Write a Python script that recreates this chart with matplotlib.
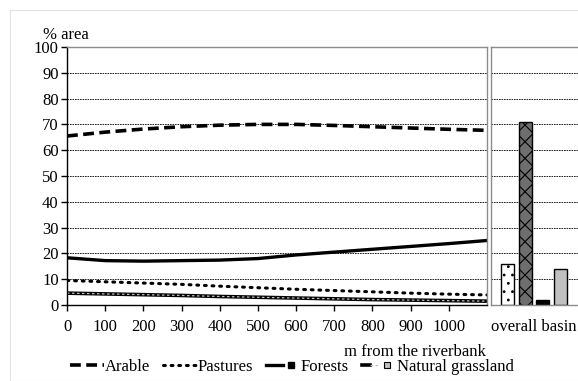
import matplotlib
matplotlib.use("Agg")
from matplotlib import pyplot as plt
from matplotlib.lines import Line2D
from matplotlib.patches import Rectangle
from matplotlib.legend_handler import HandlerTuple

plt.rcParams['font.family'] = ['Liberation Serif', 'DejaVu Serif']
plt.rcParams['font.size'] = 12
plt.rcParams['hatch.linewidth'] = 0.8

# distance from the riverbank [m]
dist = [0, 100, 200, 300, 400, 500, 600, 700, 800, 900, 1000, 1100]

# % area per land use
arable = [65.5, 67.0, 68.2, 69.1, 69.7, 70.0, 70.0, 69.6, 69.1, 68.6, 68.1, 67.7]
pastures = [9.5, 9.0, 8.5, 8.0, 7.3, 6.7, 6.1, 5.6, 5.1, 4.6, 4.2, 3.9]
forests = [18.3, 17.2, 17.0, 17.2, 17.4, 18.0, 19.4, 20.5, 21.6, 22.7, 23.8, 25.0]
grassland = [4.6, 4.3, 4.0, 3.7, 3.3, 3.0, 2.7, 2.4, 2.1, 1.9, 1.7, 1.5]

# overall basin: pastures, arable, forests, natural grassland
basin_vals = [16, 71, 2, 14]
basin_label = 'overall basin'

x_ticks = list(range(0, 1001, 100))
y_ticks = list(range(0, 101, 10))

fig = plt.figure(figsize=(5.78, 3.81), dpi=100)

# faint outer frame
fig.patches.append(Rectangle((10 / 578, 0), 1.0, 1 - 10 / 381, transform=fig.transFigure,
                             fill=False, edgecolor='#e4e4e4', lw=0.8))

ax = fig.add_axes([67 / 578, 76 / 381, 420 / 578, 258 / 381])
ax2 = fig.add_axes([491 / 578, 76 / 381, 90 / 578, 258 / 381])

for a in (ax, ax2):
    a.set_ylim(0, 100)
    for y in y_ticks[1:-1]:
        a.axhline(y, color='black', lw=0.6, ls=(0, (2, 1)), zorder=0)
    for s in a.spines.values():
        s.set_color('#8c8c8c')
        s.set_linewidth(1.0)

# lines
ax.plot(dist, arable, color='black', lw=2.6, ls=(0, (3.0, 1.5)))
ax.plot(dist, pastures, color='black', lw=2.2, ls=(0, (0.6, 1.9)), dash_capstyle='round')
ax.plot(dist, forests, color='black', lw=2.4)
ax.plot(dist, grassland, color='black', lw=2.6)
ax.plot(dist, grassland, color='#bdbdbd', lw=0.9, ls=(0, (2, 2)))

ax.set_xlim(0, 1100)
ax.set_xticks(x_ticks)
ax.set_yticks(y_ticks)
ax.spines['left'].set_color('black')
ax.spines['bottom'].set_color('black')
ax.tick_params(axis='both', direction='out', length=4, width=1, color='black', pad=2)
ax.tick_params(axis='x', pad=6)

# overall basin bars
bx = [0, 1, 2, 3]
ax2.bar(bx[0], basin_vals[0], width=0.74, facecolor='white', edgecolor='black', lw=1.0, hatch='..')
ax2.bar(bx[1], basin_vals[1], width=0.74, facecolor='#6e6e6e', edgecolor='black', lw=1.0, hatch='xx')
ax2.bar(bx[2], basin_vals[2], width=0.74, facecolor='black', edgecolor='black', lw=1.0)
ax2.bar(bx[3], basin_vals[3], width=0.74, facecolor='#c0c0c0', edgecolor='black', lw=1.0)
ax2.set_xlim(-0.97, 4.2)
ax2.set_yticks([])
ax2.set_xticks([1.5])
ax2.set_xticklabels([basin_label])
ax2.tick_params(axis='x', length=0, pad=10)

fig.text(43 / 578, 1 - 35 / 381, '% area', va='center', ha='left')
fig.text(415 / 578, 1 - 352 / 381, 'm from the riverbank', va='center', ha='center')

# legend
h_arable = Line2D([], [], color='black', lw=2.6, ls=(0, (3.0, 1.5)))
h_past = Line2D([], [], color='black', lw=2.2, ls=(0, (0.6, 1.9)), dash_capstyle='round')
h_for = (Line2D([], [], color='black', lw=2.4),
         Line2D([], [], color='black', marker='s', ms=5, ls='none'))
h_grass = ((Line2D([], [], color='black', lw=2.6),
            Line2D([], [], color='#bdbdbd', lw=0.9, ls=(0, (2, 2)))),
           Line2D([], [], color='black', mfc='#c0c0c0', marker='s', ms=5, ls='none', mew=0.8))
fig.legend([h_arable, h_past, h_for, h_grass],
           ['Arable', 'Pastures', 'Forests', 'Natural grassland'],
           handler_map={tuple: HandlerTuple(ndivide=None, pad=0)},
           loc='center', bbox_to_anchor=(0.505, 1 - 367 / 381), ncol=4, frameon=False,
           handlelength=2.0, handletextpad=0.1, columnspacing=0.75)

fig.savefig('out.png', dpi=100)
